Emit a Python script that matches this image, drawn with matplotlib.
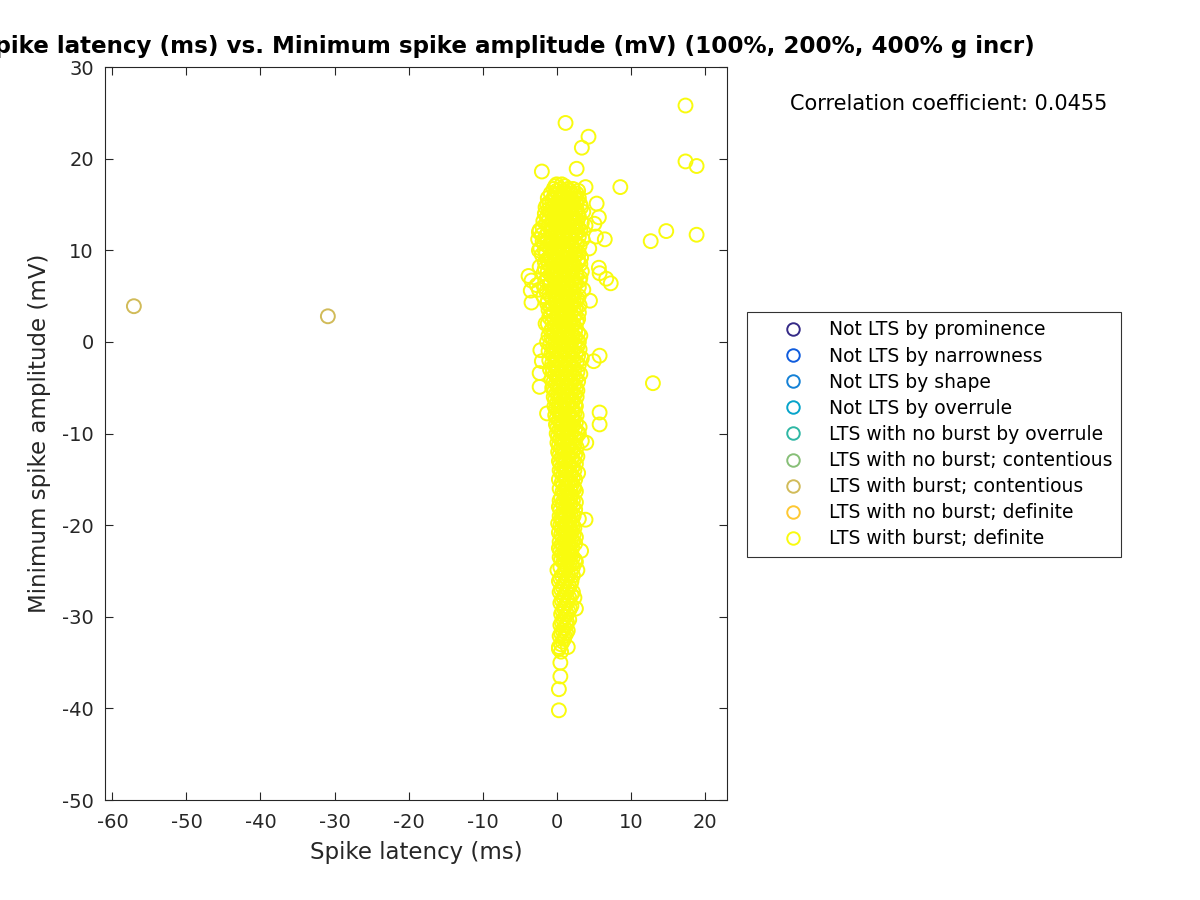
import matplotlib
matplotlib.use("Agg")
import matplotlib.pyplot as plt
from matplotlib.lines import Line2D

plt.rcParams["axes.unicode_minus"] = False

# legend categories and their parula-like colours
categories = ["Not LTS by prominence", "Not LTS by narrowness", "Not LTS by shape",
              "Not LTS by overrule", "LTS with no burst by overrule",
              "LTS with no burst; contentious", "LTS with burst; contentious",
              "LTS with no burst; definite", "LTS with burst; definite"]
colors = ["#352A87", "#0F5CDD", "#1481D6", "#06A4CA", "#2EB7A4",
          "#87BF77", "#D1BB59", "#FEC832", "#F9FB0E"]

# LTS with burst; contentious
contentious_lat = [-57.1, -30.9]
contentious_amp = [3.9, 2.8]

# LTS with burst; definite (outliers first, then the dense column)
definite_lat = [17.4, 1.2, 4.3, 3.4, 2.7, -2.0, 17.4, 18.9, 8.6, 3.9, 14.8, 12.7, 18.9,
                13.0, 5.4, 5.7, 6.5, 5.7, 5.8, 6.7, 7.3, 5.3, 5.1, -3.8, -3.4, -3.5,
                -3.4, -2.4, -2.4, -1.5, -2.2, -2.0, -2.3, -2.3, 5.8, 5.0, 5.8, 5.8,
                4.0, 3.9, -1.3, 0.3, 0.3, 0.5, 0.5, 0.3, 4.5,
                0.0, 0.7,
                -0.4, 0.5, 1.5, 2.2,
                -0.8, 0.2, 1.0, 1.9, 2.7,
                -1.2, -0.2, 0.6, 1.4, 2.4, 3.0,
                -1.0, 0.1, 0.9, 1.7, 2.6,
                -1.5, -0.5, 0.4, 1.2, 2.0, 3.3,
                -0.9, 0.0, 0.8, 1.6, 2.5, 3.6,
                -1.3, -0.3, 0.5, 1.3, 2.2, 3.0,
                -1.8, -0.6, 0.3, 1.1, 1.9, 2.8,
                -1.1, 0.0, 0.9, 1.7, 2.6, 3.9,
                -2.3, -0.8, 0.4, 1.4, 2.3, 3.2,
                -2.0, -0.4, 0.7, 1.6, 2.5,
                -2.5, -1.2, 0.1, 1.0, 2.0, 3.5,
                -1.7, -0.5, 0.6, 1.5, 2.7,
                -2.2, -0.9, 0.3, 1.2, 2.2, 4.4,
                -1.4, -0.2, 0.9, 1.9, 3.0,
                -1.0, 0.2, 1.3, 2.4, 3.3,
                -1.6, -0.4, 0.7, 1.7, 2.9,
                -2.3, -0.8, 0.4, 1.4, 2.5,
                -1.2, 0.0, 1.1, 2.1, 3.4,
                -0.7, 0.5, 1.6, 2.7,
                -1.5, -0.2, 0.9, 2.0, 3.1,
                -2.7, -0.9, 0.3, 1.4, 2.5,
                -2.4, -0.5, 0.8, 1.9, 3.6,
                -1.0, 0.2, 1.3, 2.4,
                -0.6, 0.6, 1.7, 2.8,
                -1.3, -0.1, 1.0, 2.1,
                -0.8, 0.4, 1.5, 2.6,
                -0.4, 0.8, 1.9, 3.0,
                -1.0, 0.1, 1.2, 2.3,
                -0.6, 0.5, 1.6, 2.7,
                -0.2, 0.9, 2.0,
                -0.8, 0.3, 1.4, 2.5,
                -1.1, 0.0, 1.1, 2.2, 3.2,
                -0.5, 0.6, 1.7, 2.8,
                -0.9, 0.2, 1.3, 2.4,
                -0.3, 0.8, 1.9, 3.1,
                -0.7, 0.4, 1.5, 2.6,
                -0.2, 0.9, 2.0, 3.4,
                -0.6, 0.5, 1.6, 2.7,
                -0.1, 1.0, 2.1,
                -0.5, 0.6, 1.7, 2.8,
                0.0, 1.1, 2.2,
                -0.4, 0.7, 1.8, 2.9,
                0.1, 1.2, 2.3,
                -0.3, 0.8, 1.9, 2.8,
                0.2, 1.3, 2.4,
                -0.2, 0.9, 2.0,
                0.3, 1.4, 2.5,
                -0.1, 1.0, 2.1,
                0.4, 1.5, 2.4,
                0.0, 1.1, 2.0,
                0.5, 1.6, 2.6,
                0.1, 1.2, 2.1, 3.1,
                0.6, 1.7, 2.8,
                0.2, 1.3, 2.3,
                0.7, 1.8, 3.4,
                0.3, 1.4, 2.4,
                0.8, 1.9,
                0.4, 1.5, 2.5,
                0.9, 2.0,
                0.5, 1.6, 2.6,
                1.0, 2.1,
                0.6, 1.7, 2.9,
                1.1, 2.2,
                0.7, 1.8,
                1.2, 2.3,
                0.8, 1.9, 2.6,
                1.3, 2.0,
                0.4, 1.4, 2.2,
                0.9, 1.8,
                0.5, 1.5, 2.5,
                1.0, 1.9,
                0.6, 1.6, 3.0,
                0.2, 1.1, 2.0,
                0.7, 1.6, 2.4,
                0.3, 1.2, 2.0,
                0.8, 1.7, 2.6,
                0.4, 1.3, 2.2,
                0.9, 1.8,
                0.5, 1.4, 3.3,
                1.0, 1.9,
                0.6, 1.5, 2.5,
                1.1, 2.0,
                0.1, 1.2, 2.8,
                0.7, 1.6, 2.2,
                0.3, 1.2, 2.0,
                0.8, 1.7,
                0.4, 1.3, 2.2,
                0.9, 1.7, 2.4,
                0.5, 1.4,
                1.0, 1.8, 2.6,
                0.6, 1.4,
                0.9, 1.7,
                0.5, 1.3,
                0.8, 1.5,
                0.4, 1.1,
                0.8,
                0.3, 1.5,
                0.6]
definite_amp = [25.8, 23.9, 22.4, 21.2, 18.9, 18.6, 19.7, 19.2, 16.9, 16.9, 12.1, 11.0, 11.7,
                -4.5, 15.1, 13.6, 11.2, 8.1, 7.5, 6.9, 6.4, 11.5, 12.9, 7.2, 6.7, 5.6,
                4.3, 12.0, 10.0, 2.0, -0.9, -2.1, -3.4, -4.9, -1.5, -2.1, -7.7, -9.0,
                -11.0, -19.4, -7.8, -40.2, -37.9, -36.5, -35.0, -33.5, 4.5,
                17.2, 17.2,
                16.7, 16.7, 16.7, 16.7,
                16.2, 16.2, 16.2, 16.2, 16.2,
                15.7, 15.7, 15.7, 15.7, 15.7, 15.7,
                15.2, 15.2, 15.2, 15.2, 15.2,
                14.7, 14.7, 14.7, 14.7, 14.7, 14.7,
                14.2, 14.2, 14.2, 14.2, 14.2, 14.2,
                13.7, 13.7, 13.7, 13.7, 13.7, 13.7,
                13.2, 13.2, 13.2, 13.2, 13.2, 13.2,
                12.7, 12.7, 12.7, 12.7, 12.7, 12.7,
                12.2, 12.2, 12.2, 12.2, 12.2, 12.2,
                11.7, 11.7, 11.7, 11.7, 11.7,
                11.2, 11.2, 11.2, 11.2, 11.2, 11.2,
                10.7, 10.7, 10.7, 10.7, 10.7,
                10.2, 10.2, 10.2, 10.2, 10.2, 10.2,
                9.7, 9.7, 9.7, 9.7, 9.7,
                9.2, 9.2, 9.2, 9.2, 9.2,
                8.7, 8.7, 8.7, 8.7, 8.7,
                8.2, 8.2, 8.2, 8.2, 8.2,
                7.7, 7.7, 7.7, 7.7, 7.7,
                7.2, 7.2, 7.2, 7.2,
                6.7, 6.7, 6.7, 6.7, 6.7,
                6.2, 6.2, 6.2, 6.2, 6.2,
                5.7, 5.7, 5.7, 5.7, 5.7,
                5.2, 5.2, 5.2, 5.2,
                4.7, 4.7, 4.7, 4.7,
                4.2, 4.2, 4.2, 4.2,
                3.7, 3.7, 3.7, 3.7,
                3.2, 3.2, 3.2, 3.2,
                2.7, 2.7, 2.7, 2.7,
                2.2, 2.2, 2.2, 2.2,
                1.7, 1.7, 1.7,
                1.2, 1.2, 1.2, 1.2,
                0.7, 0.7, 0.7, 0.7, 0.7,
                0.2, 0.2, 0.2, 0.2,
                -0.3, -0.3, -0.3, -0.3,
                -0.8, -0.8, -0.8, -0.8,
                -1.3, -1.3, -1.3, -1.3,
                -1.8, -1.8, -1.8, -1.8,
                -2.3, -2.3, -2.3, -2.3,
                -2.8, -2.8, -2.8,
                -3.3, -3.3, -3.3, -3.3,
                -3.8, -3.8, -3.8,
                -4.3, -4.3, -4.3, -4.3,
                -4.8, -4.8, -4.8,
                -5.3, -5.3, -5.3, -5.3,
                -5.8, -5.8, -5.8,
                -6.3, -6.3, -6.3,
                -6.8, -6.8, -6.8,
                -7.3, -7.3, -7.3,
                -7.8, -7.8, -7.8,
                -8.3, -8.3, -8.3,
                -8.8, -8.8, -8.8,
                -9.3, -9.3, -9.3, -9.3,
                -9.8, -9.8, -9.8,
                -10.3, -10.3, -10.3,
                -10.8, -10.8, -10.8,
                -11.3, -11.3, -11.3,
                -11.8, -11.8,
                -12.3, -12.3, -12.3,
                -12.8, -12.8,
                -13.3, -13.3, -13.3,
                -13.8, -13.8,
                -14.3, -14.3, -14.3,
                -14.8, -14.8,
                -15.3, -15.3,
                -15.8, -15.8,
                -16.3, -16.3, -16.3,
                -16.8, -16.8,
                -17.3, -17.3, -17.3,
                -17.8, -17.8,
                -18.3, -18.3, -18.3,
                -18.8, -18.8,
                -19.3, -19.3, -19.3,
                -19.8, -19.8, -19.8,
                -20.3, -20.3, -20.3,
                -20.8, -20.8, -20.8,
                -21.3, -21.3, -21.3,
                -21.8, -21.8, -21.8,
                -22.3, -22.3,
                -22.8, -22.8, -22.8,
                -23.3, -23.3,
                -23.8, -23.8, -23.8,
                -24.3, -24.3,
                -24.9, -24.9, -24.9,
                -25.5, -25.5, -25.5,
                -26.1, -26.1, -26.1,
                -26.7, -26.7,
                -27.3, -27.3, -27.3,
                -27.9, -27.9, -27.9,
                -28.5, -28.5,
                -29.1, -29.1, -29.1,
                -29.7, -29.7,
                -30.3, -30.3,
                -30.9, -30.9,
                -31.5, -31.5,
                -32.1, -32.1,
                -32.7,
                -33.3, -33.3,
                -33.8]

# more points of the dense column, one amplitude per row with its latencies
row_amp = [17.0, 16.5, 16.0, 15.5, 15.0, 14.5, 14.0, 13.5, 13.0, 12.5, 12.0, 11.5,
           11.0, 10.5, 10.0, 9.5, 9.0, 8.5, 8.0, 7.5, 7.0, 6.5, 6.0, 5.5, 5.0, 4.5,
           4.0, 3.5, 3.0, 2.5, 2.0, 1.5, 1.0, 0.5, 0.0, -0.5, -1.0, -1.5, -2.0,
           -2.5, -3.0, -3.5, -4.0, -4.5, -5.0, -5.5, -6.0, -6.5, -7.0, -7.5, -8.0,
           -8.5, -9.0, -9.5, -10.0, -10.5, -11.0, -11.5, -12.0, -12.5, -13.0,
           -13.5, -14.0, -14.5, -15.0, -15.5, -16.0, -16.5, -17.0, -17.5, -18.0,
           -18.5, -19.0, -19.5, -20.0, -20.5, -21.0, -21.5, -22.0, -22.5, -23.0,
           -23.5, -24.0, -24.6, -25.2, -25.8, -26.4, -27.0, -27.6, -28.2, -28.8,
           -29.4, -30.0, -30.6, -31.2, -31.8, -32.4, -33.0]
row_lat = [[-0.2, 1.1], [0.0, 1.0, 1.8, 2.9], [-0.3, 0.8, 1.6, 2.3],
           [-0.6, 0.4, 1.2, 2.0, 2.8], [-1.3, -0.2, 0.6, 1.4, 2.3, 3.2],
           [-1.1, 0.2, 1.0, 1.8, 2.7], [-1.6, -0.6, 0.3, 1.2, 2.0, 2.9],
           [-1.0, 0.1, 0.9, 1.7, 2.5], [-1.4, -0.2, 0.6, 1.5, 2.4, 3.4],
           [-1.9, -0.5, 0.3, 1.2, 2.1, 2.9], [-1.2, 0.0, 1.0, 1.9, 2.8],
           [-1.5, -0.1, 0.9, 1.9, 3.0], [-1.9, -0.7, 0.5, 1.4, 2.4],
           [-1.2, 0.0, 1.0, 2.0, 3.1], [-1.6, -0.4, 0.7, 1.7, 2.6],
           [-2.0, -0.8, 0.4, 1.4, 2.5], [-1.3, -0.1, 1.0, 2.0, 2.9],
           [-1.1, 0.2, 1.2, 2.2, 3.2], [-1.6, -0.3, 0.9, 1.9],
           [-1.8, -0.5, 0.6, 1.6, 2.6], [-1.2, 0.0, 1.1, 2.2, 3.2],
           [-0.8, 0.4, 1.5, 2.5], [-1.6, -0.3, 0.8, 1.9, 3.0],
           [-1.4, 0.0, 1.1, 2.2], [-1.8, -0.2, 0.9, 2.0, 3.0],
           [-1.2, 0.0, 1.2, 2.3], [-0.5, 0.8, 1.9, 3.1], [-1.1, 0.1, 1.2, 2.3],
           [-0.8, 0.3, 1.4, 2.5], [-0.3, 0.7, 1.8, 2.9], [-1.2, 0.0, 1.1, 2.2],
           [-0.6, 0.4, 1.5, 2.6], [-0.3, 0.8, 1.9, 2.9], [-0.7, 0.4, 1.5, 2.5],
           [-1.3, -0.2, 0.9, 2.0, 3.0], [-0.5, 0.6, 1.7, 2.8],
           [-1.1, 0.0, 1.1, 2.2], [-0.4, 0.7, 1.8, 2.9], [-1.0, 0.1, 1.2, 2.3],
           [-0.3, 0.8, 1.9, 3.0], [-0.9, 0.2, 1.3, 2.4], [-0.2, 0.9, 2.0, 3.2],
           [-0.7, 0.4, 1.5, 2.6], [-0.1, 0.9, 2.0], [-0.6, 0.5, 1.6, 2.6],
           [0.0, 1.0, 2.1], [-0.4, 0.6, 1.7, 2.7], [0.1, 1.1, 2.2],
           [-0.3, 0.7, 1.7, 2.6], [0.2, 1.2, 2.2], [-0.2, 0.8, 1.7, 2.7],
           [0.3, 1.3, 2.3], [-0.1, 0.9, 1.9], [0.4, 1.4, 2.5],
           [0.0, 1.0, 2.0, 3.0], [0.5, 1.5, 2.6], [0.1, 1.1, 2.0],
           [0.6, 1.6, 2.7], [0.2, 1.2, 2.2], [0.7, 1.7, 2.8], [0.3, 1.3, 2.3],
           [0.8, 1.8], [0.4, 1.4, 2.4], [0.9, 1.9], [0.3, 1.3, 2.5],
           [0.9, 1.5, 2.1], [0.4, 1.4, 2.4], [1.0, 1.6], [0.6, 1.2, 1.8],
           [0.8, 1.6, 2.6], [0.3, 1.3, 2.2], [0.9, 1.7], [0.4, 1.3, 2.3],
           [0.8, 1.8], [0.5, 1.4, 2.2], [1.0, 1.9], [0.6, 1.5, 2.3], [1.1, 2.0],
           [0.7, 1.6, 2.5], [0.3, 1.2, 2.1], [0.8, 1.7], [0.4, 1.3, 2.2],
           [0.9, 1.8, 2.6], [0.5, 1.4, 2.2], [1.0, 1.9], [0.5, 1.4], [1.0, 1.9],
           [0.6, 1.5], [1.1, 2.0], [0.7, 1.5], [1.1, 2.0], [0.8, 1.6], [1.1],
           [0.7, 1.4], [1.0], [0.6, 1.3], [1.0], [0.6]]

corr_text = "Correlation coefficient: 0.0455"
title = "Spike latency (ms) vs. Minimum spike amplitude (mV) (100%, 200%, 400% g incr)"

for a, lats in zip(row_amp, row_lat):
    for x in lats:
        definite_lat.append(x)
        definite_amp.append(a)

fig = plt.figure(figsize=(12, 9), dpi=100)
ax = fig.add_axes([0.0875, 0.111, 0.5183, 0.8145])

dark = "#262626"
ax.scatter(contentious_lat, contentious_amp, s=100, facecolors="none",
           edgecolors=colors[6], linewidths=1.4)
ax.scatter(definite_lat, definite_amp, s=100, facecolors="none",
           edgecolors=colors[8], linewidths=1.4)

ax.set_xlim(-61, 23)
ax.set_ylim(-50, 30)
ax.set_xticks(range(-60, 21, 10))
ax.set_yticks(range(-50, 31, 10))
ax.tick_params(direction="in", top=True, right=True, labelsize=14,
               colors=dark, length=6, width=0.8)
ax.tick_params(axis="x", pad=9)
ax.tick_params(axis="y", pad=8)
for sp in ax.spines.values():
    sp.set_color(dark)
    sp.set_linewidth(0.8)
ax.set_xlabel("Spike latency (ms)", fontsize=16.5, color=dark, labelpad=7)
ax.set_ylabel("Minimum spike amplitude (mV)", fontsize=16.5, color=dark, labelpad=8)

# the reference title runs past the left edge of the figure
fig.text(1035 / 1200, 1 - 47 / 900, title, ha="right", va="center",
         fontsize=16.6, fontweight="bold")
fig.text(790 / 1200, 1 - 104 / 900, corr_text, ha="left", va="center", fontsize=15)

handles = [Line2D([], [], linestyle="none", marker="o", markersize=9,
                  markerfacecolor="none", markeredgecolor=c, markeredgewidth=1.4)
           for c in colors]
leg = fig.legend(handles, categories, loc="upper left",
                 bbox_to_anchor=(747 / 1200, 1 - 312 / 900), fontsize=13.5,
                 frameon=True, fancybox=False, edgecolor="black",
                 borderpad=0.45, labelspacing=0.38, handletextpad=-0.1,
                 handlelength=4.0, borderaxespad=0)
leg.get_frame().set_linewidth(0.8)

fig.savefig("out.png", dpi=100)
